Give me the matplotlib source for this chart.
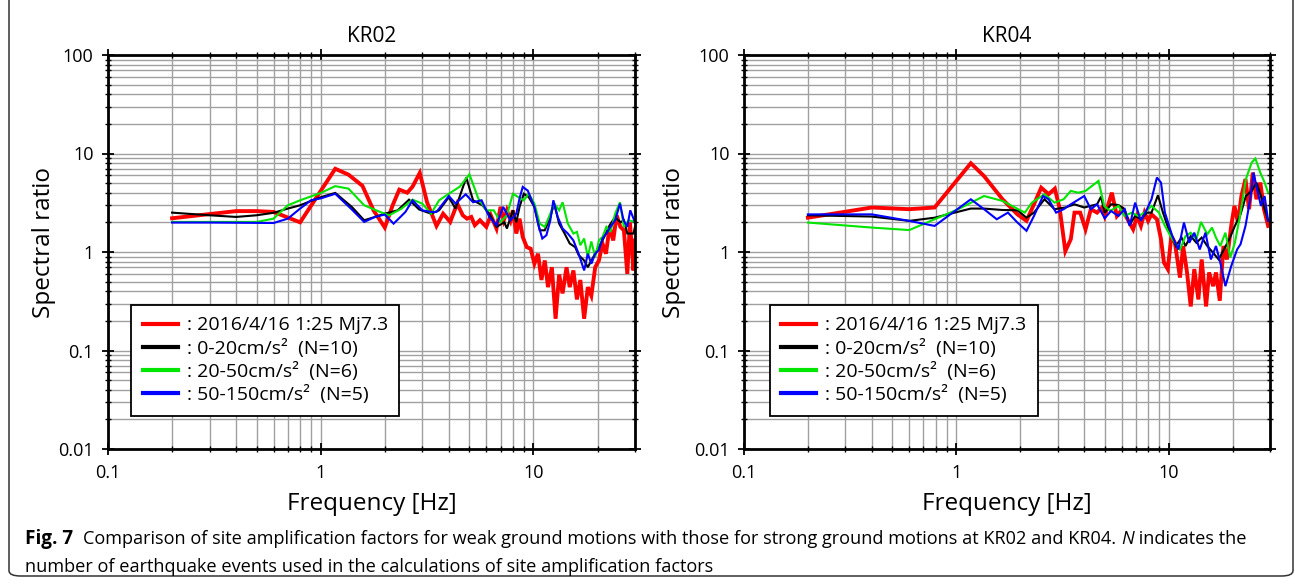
import matplotlib
matplotlib.use("Agg")
import matplotlib.pyplot as plt
from matplotlib import ticker
from matplotlib.patches import FancyBboxPatch

# ---------------- data ----------------
stations = ["KR02", "KR04"]
legend_labels = [": 2016/4/16 1:25 Mj7.3", ": 0-20cm/s²  (N=10)",
                 ": 20-50cm/s²  (N=6)", ": 50-150cm/s²  (N=5)"]
series_colors = ["#ff0000", "#000000", "#00e600", "#0000ff"]
x_ticks = [0.1, 1, 10]
y_ticks = [0.01, 0.1, 1, 10, 100]

# KR02
kr02_red_f = [0.2, 0.4, 0.5, 0.6, 0.8, 1.17, 1.35, 1.57, 1.77, 2.0, 2.18, 2.34, 2.55, 2.7, 2.92,
              3.16, 3.5, 3.76, 4.06, 4.38, 4.65, 4.87, 5.1, 5.3, 5.6, 6.0, 6.3, 6.7, 7.0, 7.25,
              7.5, 7.8, 8.0, 8.3, 8.6, 8.9, 9.3, 9.7, 10.1, 10.5, 10.9, 11.3, 11.7, 12.2, 12.7,
              13.2, 13.7, 14.3, 14.8, 15.4, 16.0, 16.6, 17.3, 18.0, 18.7, 19.5, 20.3, 21.1,
              21.9, 22.8, 23.7, 24.6, 25.6, 26.6, 27.6, 28.4, 29.5, 30.0]
kr02_red_v = [2.2, 2.6, 2.6, 2.55, 2.0, 7.0, 6.1, 4.7, 2.65, 1.77, 3.0, 4.3, 4.0, 4.6, 6.35,
              3.2, 1.84, 2.45, 2.02, 3.1, 2.36, 2.18, 2.27, 1.87, 2.1, 1.8, 2.36, 1.73, 2.87, 2.1,
              2.65, 2.1, 2.65, 1.54, 2.18, 1.42, 1.12, 1.08, 0.76, 0.96, 0.52, 0.82, 0.44, 0.70, 0.21,
              0.59, 0.38, 0.70, 0.44, 0.65, 0.33, 0.52, 0.21, 0.44, 0.36, 0.70, 0.82, 1.22,
              0.96, 1.8, 1.31, 2.36, 1.8, 1.66, 0.6, 2.0, 0.65, 1.31]
kr02_black_f = [0.2, 0.3, 0.4, 0.5, 0.6, 0.7, 0.8, 0.9, 1.0, 1.17, 1.4, 1.6, 1.8, 2.0, 2.3, 2.6,
                2.9, 3.3, 3.6, 4.0, 4.3, 4.83, 5.2, 5.75, 6.2, 6.7, 7.3, 7.5, 8.0, 8.3, 8.6, 9.0,
                9.5, 10.1, 10.7, 11.3, 12.0, 12.5, 13.2, 14.0, 14.8, 15.7, 16.3, 17.3, 18.0, 19.1,
                20.3, 21.5, 22.8, 24.2, 25.6, 26.6, 27.6, 29.5, 30.0]
kr02_black_v = [2.51, 2.36, 2.27, 2.36, 2.5, 2.76, 2.98, 3.3, 3.6, 3.98, 2.87, 2.1, 2.27, 2.45, 2.65, 3.4,
                2.7, 2.45, 2.65, 3.6, 2.76, 5.7, 3.35, 2.98, 2.45, 1.8, 2.0, 1.73, 2.65, 2.0, 2.87, 3.9,
                3.6, 2.87, 1.66, 1.66, 2.27, 3.1, 1.94, 1.54, 1.22, 1.12, 0.93, 0.82, 0.70, 0.89,
                1.12, 1.42, 1.87, 2.27, 2.0, 2.1, 1.54, 1.54, 1.8]
kr02_green_f = [0.2, 0.5, 0.6, 0.7, 0.8, 1.0, 1.17, 1.35, 1.6, 1.9, 2.1, 2.4, 2.7, 3.0, 3.3, 3.6,
                4.0, 4.5, 5.0, 5.5, 6.0, 6.5, 7.0, 7.5, 8.0, 8.5, 9.0, 9.5, 10.1, 10.7, 11.3, 12.0,
                12.5, 13.2, 13.7, 14.5, 15.4, 16.0, 16.6, 17.3, 18.0, 18.7, 19.5, 20.3, 21.1, 22.0,
                23.0, 24.2, 25.5, 26.6, 28.0, 30.0]
kr02_green_v = [2.02, 2.02, 2.18, 2.98, 3.35, 3.98, 4.66, 4.4, 2.98, 2.55, 2.36, 2.76, 3.4, 3.1, 2.45, 3.35,
                3.9, 4.6, 6.15, 3.5, 2.65, 2.65, 2.02, 2.36, 3.9, 3.6, 3.35, 3.9, 3.1, 1.94, 1.8, 2.45,
                3.1, 2.65, 3.2, 1.94, 1.54, 1.6, 1.17, 1.37, 0.89, 1.28, 0.89, 1.31, 1.42, 1.8,
                1.6, 2.45, 3.2, 1.8, 2.1, 2.02]
kr02_blue_f = [0.2, 0.3, 0.6, 0.7, 0.8, 0.9, 1.0, 1.17, 1.4, 1.6, 1.8, 2.0, 2.2, 2.5, 2.7, 3.0, 3.3,
               3.5, 4.0, 4.3, 4.8, 5.2, 5.7, 6.2, 6.7, 7.2, 7.8, 8.3, 8.6, 8.9, 9.4, 10.1, 10.6,
               11.0, 11.5, 12.0, 12.4, 13.0, 13.7, 14.5, 15.4, 16.3, 17.3, 18.0, 18.7, 19.5, 20.3,
               21.1, 22.0, 23.0, 24.2, 25.5, 26.5, 27.6, 28.5, 30.0]
kr02_blue_v = [1.99, 1.99, 1.97, 2.18, 2.76, 3.35, 3.5, 3.9, 2.7, 2.02, 2.27, 2.4, 1.94, 2.55, 3.35, 2.65, 2.55,
               2.55, 3.7, 3.1, 3.85, 3.2, 3.35, 2.27, 1.87, 2.87, 2.1, 2.45, 3.5, 4.58, 4.2, 2.87, 1.8,
               1.37, 1.48, 2.1, 3.35, 2.27, 1.73, 1.54, 1.31, 0.96, 0.65, 0.96, 0.76, 0.96, 1.05,
               1.37, 1.54, 1.8, 2.1, 3.1, 2.1, 1.8, 2.65, 2.0]

# KR04
kr04_red_f = [0.2, 0.4, 0.6, 0.79, 1.17, 1.35, 1.65, 1.94, 2.14, 2.32, 2.51, 2.72, 2.91, 3.07, 3.26,
              3.46, 3.6, 3.83, 4.06, 4.3, 4.6, 4.85, 5.0, 5.4, 5.7, 6.05, 6.4, 6.8, 7.1, 7.4, 7.7,
              8.0, 8.3, 8.8, 9.2, 9.5, 9.9, 10.3, 10.7, 11.3, 11.7, 12.2, 12.7, 13.2, 13.8, 14.3,
              15.0, 15.5, 16.2, 16.7, 17.4, 18.1, 18.8, 19.7, 20.4, 21.2, 22.0, 23.0, 23.9, 24.9,
              25.9, 27.0, 28.1, 29.4]
kr04_red_v = [2.23, 2.83, 2.72, 2.83, 7.97, 5.9, 3.43, 2.41, 2.07, 3.05, 4.5, 3.86, 4.4, 2.72, 1.02,
              1.35, 2.51, 2.51, 1.70, 2.72, 2.51, 2.83, 2.32, 4.0, 2.32, 2.72, 2.15, 1.7, 2.32, 1.84, 2.51,
              2.07, 2.41, 2.15, 1.35, 0.78, 0.67, 1.45, 1.24, 0.55, 1.15, 0.62, 0.28, 0.67, 0.33, 0.84,
              0.28, 0.62, 0.45, 0.62, 0.32, 1.15, 0.84, 1.84, 2.94, 1.99, 3.7, 5.5, 2.72, 6.4,
              3.43, 5.07, 2.72, 1.84]
kr04_black_f = [0.2, 0.4, 0.6, 0.79, 1.17, 1.35, 1.65, 1.94, 2.14, 2.32, 2.6, 2.9, 3.26, 3.6, 4.0,
                4.6, 4.8, 5.0, 5.35, 5.8, 6.2, 6.55, 6.95, 7.4, 7.9, 8.3, 8.9, 9.4, 10.0, 10.8, 11.5,
                12.0, 12.7, 13.5, 14.3, 15.2, 16.2, 17.2, 18.2, 19.3, 20.5, 21.8, 23.1, 24.6, 25.9,
                27.2, 28.3, 29.4]
kr04_black_v = [2.36, 2.29, 2.07, 2.23, 2.76, 2.76, 2.67, 2.65, 2.23, 2.51, 3.43, 2.72, 2.83, 3.05, 2.83,
                3.05, 3.65, 2.5, 3.05, 3.0, 2.72, 1.9, 2.32, 2.15, 2.51, 2.51, 3.77, 2.51, 1.70, 1.15, 1.4,
                1.15, 1.45, 1.24, 1.4, 1.15, 0.98, 0.84, 1.06, 1.35, 1.84, 2.41, 3.7, 4.17, 5.07,
                3.7, 2.72, 2.07]
kr04_green_f = [0.2, 0.4, 0.6, 0.79, 1.02, 1.35, 1.65, 2.1, 2.27, 2.6, 2.9, 3.2, 3.46, 3.75, 4.06,
                4.67, 4.97, 5.3, 5.8, 6.2, 6.7, 7.2, 7.7, 8.3, 9.0, 9.6, 10.4, 11.3, 12.0, 12.7, 13.5,
                14.2, 15.2, 16.0, 16.7, 17.5, 18.5, 19.5, 20.5, 21.8, 23.1, 24.6, 25.6, 27.0, 28.3,
                29.4]
kr04_green_v = [1.99, 1.77, 1.67, 2.15, 2.72, 3.7, 3.3, 2.51, 3.17, 3.86, 3.17, 3.43, 4.17, 4.0, 4.17,
                5.27, 2.94, 2.61, 2.94, 2.32, 2.51, 2.32, 2.51, 2.94, 2.51, 1.84, 1.35, 1.06, 1.45, 1.57, 1.35,
                2.02, 1.51, 1.77, 1.4, 1.15, 1.57, 0.88, 1.24, 2.51, 5.5, 8.1, 8.9, 6.4, 5.07,
                4.0]
kr04_blue_f = [0.2, 0.4, 0.6, 0.79, 1.17, 1.35, 1.55, 1.75, 1.94, 2.14, 2.32, 2.56, 2.72, 2.95, 3.2,
               3.46, 4.0, 4.3, 4.6, 5.0, 5.35, 5.8, 6.2, 6.55, 6.95, 7.4, 7.9, 8.3, 8.8, 9.2, 9.6,
               10.4, 11.1, 11.8, 12.5, 13.2, 14.0, 14.9, 15.8, 16.7, 17.5, 18.5, 19.7, 21.0, 21.8,
               23.0, 24.2, 25.1, 26.1, 27.2, 28.3, 29.4]
kr04_blue_v = [2.41, 2.41, 2.07, 1.84, 3.43, 2.72, 2.15, 2.51, 1.99, 1.64, 2.32, 3.7, 3.43, 2.51, 2.72,
               3.05, 3.7, 2.72, 3.05, 2.2, 2.61, 2.32, 2.72, 1.84, 3.17, 2.07, 2.72, 3.43, 5.7, 5.07, 2.51,
               1.45, 1.06, 1.99, 1.24, 1.57, 1.06, 1.57, 0.84, 1.15, 0.78, 0.45, 0.72, 1.06, 1.2,
               1.84, 3.43, 6.4, 4.3, 2.94, 3.7, 2.07]

panels = [
    [(kr02_red_f, kr02_red_v), (kr02_black_f, kr02_black_v),
     (kr02_green_f, kr02_green_v), (kr02_blue_f, kr02_blue_v)],
    [(kr04_red_f, kr04_red_v), (kr04_black_f, kr04_black_v),
     (kr04_green_f, kr04_green_v), (kr04_blue_f, kr04_blue_v)],
]

caption_bold = "Fig. 7"
caption_line1 = ("Comparison of site amplification factors for weak ground motions with those "
                 "for strong ground motions at KR02 and KR04. ")
caption_italic = "N"
caption_line1_end = " indicates the"
caption_line2 = "number of earthquake events used in the calculations of site amplification factors"

# ---------------- figure ----------------
W, H = 1295, 584
fig = plt.figure(figsize=(W / 100, H / 100), dpi=100)
fig.patch.set_facecolor("white")

# rounded frame
frame = FancyBboxPatch((9 / W, 8 / H), (1293 - 9) / W, (590 - 8) / H,
                       boxstyle="round,pad=0,rounding_size=0.009",
                       transform=fig.transFigure, facecolor="none",
                       edgecolor="#333333", linewidth=1.1, clip_on=False)
fig.add_artist(frame)

ax_rects = [
    [108 / W, 1 - 449 / H, 527 / W, 394 / H],
    [744 / W, 1 - 449 / H, 526 / W, 394 / H],
]
ylabel_x = [-0.098, -0.11]
legend_x = [0.044, 0.049]

tick_font = dict(family="Open Sans", weight="normal", size=13)
label_font = "Open Sans"
for i, ax in enumerate([fig.add_axes(r) for r in ax_rects]):
    ax.set_xscale("log")
    ax.set_yscale("log")
    ax.set_xlim(0.1, 30)
    ax.set_ylim(0.01, 100)
    lws = [2.8, 1.5, 1.5, 1.5]
    for (f, v), c, lw, lab in zip(panels[i], series_colors, lws, legend_labels):
        ax.plot(f, v, color=c, lw=lw, label=lab, solid_joinstyle="miter")
    ax.set_xticks(x_ticks)
    ax.set_yticks(y_ticks)
    fmt = ticker.FuncFormatter(lambda v, _: f"{v:g}")
    ax.xaxis.set_major_formatter(fmt)
    ax.yaxis.set_major_formatter(fmt)
    ax.xaxis.set_minor_locator(ticker.LogLocator(base=10, subs=range(2, 10), numticks=20))
    ax.yaxis.set_minor_locator(ticker.LogLocator(base=10, subs=range(2, 10), numticks=20))
    ax.xaxis.set_minor_formatter(ticker.NullFormatter())
    ax.yaxis.set_minor_formatter(ticker.NullFormatter())
    ax.grid(True, which="both", color="#a0a0a0", lw=1.0)
    ax.set_axisbelow(True)
    ax.tick_params(which="both", direction="inout", top=True, right=True, color="black")
    ax.tick_params(which="major", length=9, width=1.3, pad=6)
    ax.tick_params(which="minor", length=5, width=1.0)
    for lab in ax.get_xticklabels() + ax.get_yticklabels():
        lab.set_fontfamily(tick_font["family"])
        lab.set_fontweight(tick_font["weight"])
        lab.set_fontsize(tick_font["size"])
    for sp in ax.spines.values():
        sp.set_linewidth(2.0)
        sp.set_color("black")
    ax.set_title(stations[i], fontsize=15, family=label_font, pad=9)
    ax.set_ylabel("Spectral ratio", fontsize=17.5, family=label_font)
    ax.yaxis.set_label_coords(ylabel_x[i], 0.525)
    ax.set_xlabel("Frequency [Hz]", fontsize=17.5, family=label_font)
    ax.xaxis.set_label_coords(0.5, -0.11)
    leg = ax.legend(loc="upper left", bbox_to_anchor=(legend_x[i], 0.366), borderaxespad=0,
                    prop={"family": label_font, "size": 14}, frameon=True, fancybox=False,
                    edgecolor="black", framealpha=1, handlelength=1.8, handletextpad=0.45,
                    labelspacing=0.22, borderpad=0.6)
    leg.get_frame().set_linewidth(1.3)
    for line in leg.get_lines():
        line.set_linewidth(3.0)

# caption
cap_size = 13.1
fig.canvas.draw()
r = fig.canvas.get_renderer()
x0, y1, y2 = 25 / W, 1 - 544 / H, 1 - 572 / H
t = fig.text(x0, y1, caption_bold, fontsize=cap_size + 0.5, family="Open Sans", weight="bold")
bb = t.get_window_extent(r)
x = bb.x1 / W + 10 / W
t = fig.text(x, y1, caption_line1, fontsize=cap_size, family="Open Sans")
bb = t.get_window_extent(r)
x = bb.x1 / W
t = fig.text(x, y1, caption_italic, fontsize=cap_size, family="Open Sans", style="italic")
bb = t.get_window_extent(r)
fig.text(bb.x1 / W, y1, caption_line1_end, fontsize=cap_size, family="Open Sans")
fig.text(x0, y2, caption_line2, fontsize=cap_size, family="Open Sans")

fig.savefig("out.png", dpi=100)
